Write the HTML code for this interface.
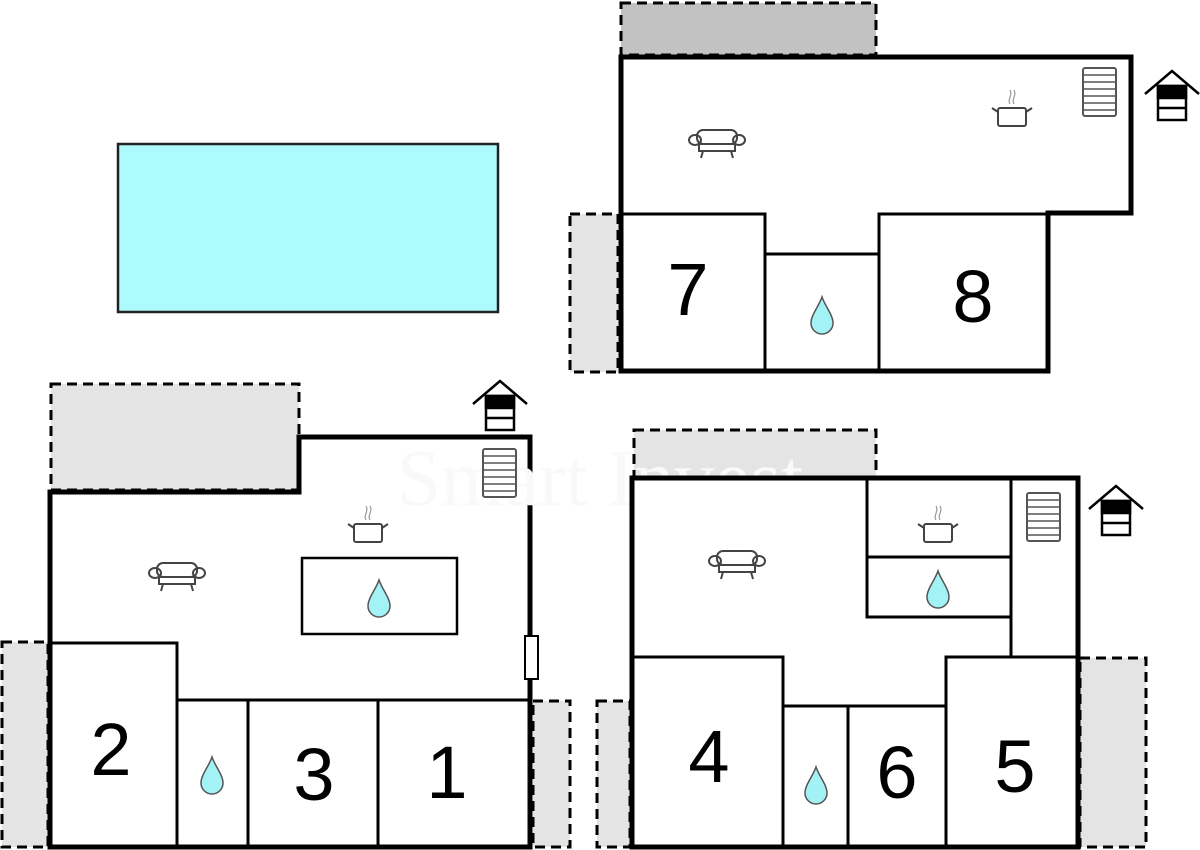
<!DOCTYPE html>
<html><head><meta charset="utf-8"><style>
html,body{margin:0;padding:0;background:#fff;}
svg{display:block;}
text{font-family:"Liberation Sans",sans-serif;fill:#000;}
</style></head><body>
<svg width="1200" height="850" viewBox="0 0 1200 850" xmlns="http://www.w3.org/2000/svg">
<defs>
<g id="drop"><path d="M0,-18 C-3,-9 -11,0 -11,8 A11,11 0 0 0 11,8 C11,0 3,-9 0,-18Z" fill="#a3f2f6" stroke="#555" stroke-width="1.5"/></g>
<g id="sofa" fill="none" stroke="#444" stroke-width="2">
<rect x="-20" y="-12" width="40" height="14" rx="6"/>
<ellipse cx="-22" cy="-2" rx="6" ry="5"/><ellipse cx="22" cy="-2" rx="6" ry="5"/>
<rect x="-18" y="2" width="36" height="7"/>
<line x1="-14" y1="9" x2="-16" y2="16"/><line x1="14" y1="9" x2="16" y2="16"/>
</g>
<g id="pot" fill="none" stroke="#444" stroke-width="2">
<rect x="-14" y="-6" width="28" height="18" rx="2"/>
<path d="M-14,-2 L-20,-6 M14,-2 L20,-6"/>
<path d="M-2,-10 C-5,-15 1,-18 -2,-24 M2,-10 C-1,-15 5,-18 2,-24" stroke="#999" stroke-width="1.2"/>
</g>
<g id="stairs" fill="#fff" stroke="#555" stroke-width="2">
<rect x="0" y="0" width="33" height="48" rx="2"/>
<path d="M0,7H33M0,14H33M0,21H33M0,28H33M0,35H33M0,42H33" stroke-width="1.5"/>
</g>
<g id="house" stroke="#000" stroke-width="2.5" fill="none">
<path d="M-27,-4 L0,-27 L27,-4"/>
<rect x="-14" y="-12" width="28" height="34" fill="#fff"/>
<rect x="-14" y="-12" width="28" height="12" fill="#000"/>
<line x1="-14" y1="10" x2="14" y2="10"/>
</g>
</defs>

<rect x="118" y="144" width="380" height="168" fill="#acfbfd" stroke="#222" stroke-width="2.5"/>

<g stroke="#000" stroke-width="3" stroke-dasharray="10,6">
<rect x="621" y="3" width="255" height="52" fill="#c2c2c2"/>
<rect x="570" y="214" width="48" height="158" fill="#e4e4e4"/>
<rect x="51" y="384" width="248" height="106" fill="#e4e4e4"/>
<rect x="2" y="642" width="46" height="205" fill="#e4e4e4"/>
<rect x="533" y="701" width="37" height="146" fill="#e4e4e4"/>
<rect x="634" y="430" width="242" height="47" fill="#e4e4e4"/>
<rect x="1080" y="658" width="66" height="189" fill="#e4e4e4"/>
<rect x="597" y="701" width="33" height="146" fill="#e4e4e4"/>
</g>

<path d="M621,57 H1131 V213 H1048 V371 H621 Z" fill="#fff" stroke="#000" stroke-width="5"/>
<g stroke="#000" stroke-width="3" fill="none">
<path d="M621,214 H765 V371"/>
<path d="M765,254 H879"/>
<path d="M879,371 V214 H1048"/>
</g>
<text x="688" y="315" font-size="74" text-anchor="middle">7</text>
<text x="973" y="322" font-size="74" text-anchor="middle">8</text>
<use href="#drop" x="822" y="315"/>
<use href="#sofa" x="717" y="142"/>
<use href="#pot" x="1012" y="114"/>
<use href="#stairs" x="1083" y="68"/>
<use href="#house" x="1172" y="98"/>

<path d="M50,492 H299 V437 H530 V847 H50 Z" fill="#fff" stroke="#000" stroke-width="5"/>
<text x="600" y="505" font-size="80" text-anchor="middle" style="fill:#f9f9f9;font-family:'Liberation Serif',serif">Smart Invest</text>
<g stroke="#000" stroke-width="3" fill="none">
<path d="M50,643 H177 V847"/>
<path d="M177,700 H530"/>
<path d="M248,700 V847 M378,700 V847"/>
<rect x="302" y="558" width="155" height="76" stroke-width="2.5"/>
</g>
<rect x="525" y="636" width="13" height="43" fill="#fff" stroke="#000" stroke-width="2"/>
<text x="111" y="775" font-size="74" text-anchor="middle">2</text>
<text x="314" y="800" font-size="74" text-anchor="middle">3</text>
<text x="447" y="798" font-size="74" text-anchor="middle">1</text>
<use href="#drop" x="212" y="775"/>
<use href="#drop" x="379" y="598"/>
<use href="#sofa" x="177" y="575"/>
<use href="#pot" x="368" y="530"/>
<use href="#stairs" x="483" y="449"/>
<use href="#house" x="500" y="408"/>

<rect x="632" y="478" width="446" height="369" fill="#fff" stroke="#000" stroke-width="5"/>
<g stroke="#000" stroke-width="3" fill="none">
<path d="M867,478 V617 H1011"/>
<path d="M867,557 H1011"/>
<path d="M1011,478 V657"/>
<path d="M632,657 H783 V847"/>
<path d="M783,706 H946"/>
<path d="M946,847 V657 H1078"/>
<path d="M848,706 V847"/>
</g>
<text x="709" y="782" font-size="74" text-anchor="middle">4</text>
<text x="897" y="798" font-size="74" text-anchor="middle">6</text>
<text x="1015" y="792" font-size="74" text-anchor="middle">5</text>
<use href="#drop" x="816" y="785"/>
<use href="#drop" x="938" y="589"/>
<use href="#sofa" x="737" y="563"/>
<use href="#pot" x="938" y="530"/>
<use href="#stairs" x="1027" y="493"/>
<use href="#house" x="1116" y="513"/>
</svg>
</body></html>
